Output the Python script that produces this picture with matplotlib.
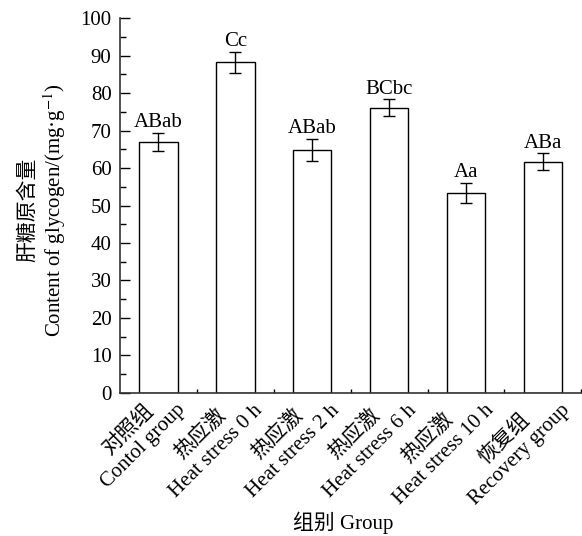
import numpy as np
import matplotlib
matplotlib.use("Agg")
import matplotlib.pyplot as plt
import matplotlib.transforms as mtransforms

plt.rcParams['font.family'] = ['Liberation Serif', 'Noto Sans CJK SC']
plt.rcParams['mathtext.fontset'] = 'stix'

groups_cn = ["对照组", "热应激", "热应激", "热应激", "热应激", "恢复组"]
groups_en = ["Contol group", "Heat stress 0 h", "Heat stress 2 h",
             "Heat stress 6 h", "Heat stress 10 h", "Recovery group"]
glycogen = [67.0, 88.2, 64.9, 76.1, 53.4, 61.7]
glycogen_sd = [2.4, 2.9, 2.9, 2.3, 2.7, 2.3]
letters = ["ABab", "Cc", "ABab", "BCbc", "Aa", "ABa"]

fig = plt.figure(figsize=(5.82, 5.36), dpi=100)
ax = fig.add_axes([0.206, 0.267, 0.793, 0.699])

x = np.arange(len(glycogen))
ax.bar(x, glycogen, width=0.5, color="white", edgecolor="black", linewidth=1.0)
ax.errorbar(x, glycogen, yerr=glycogen_sd, fmt="none", ecolor="black",
            elinewidth=1.0, capsize=4, capthick=1.0)

for xi, v, e, lab in zip(x, glycogen, glycogen_sd, letters):
    ax.annotate(lab, (xi, v + e), xytext=(0, 4), textcoords="offset points",
                ha="center", va="baseline", fontsize=15)

ax.set_xlim(-0.5, 5.5)
ax.set_ylim(0, 100)
ax.set_yticks(np.arange(0, 101, 10))
ax.set_yticks(np.arange(5, 100, 10), minor=True)
ax.set_xticks(x)
ax.set_xticklabels([])
ax.set_xticks(np.arange(0.5, 5.6, 1.0), minor=True)

# two-line group names, rotated, anchored just under each bar
shift = mtransforms.ScaledTranslation(2 / 100, 8.4 / 100, fig.dpi_scale_trans)
for xi, cn, en in zip(x, groups_cn, groups_en):
    ax.text(xi, 0, cn + "\n" + en, transform=ax.get_xaxis_transform() + shift,
            rotation=45, rotation_mode="anchor", ha="right", va="top",
            multialignment="center", fontsize=15, linespacing=1.2)

ax.tick_params(axis="y", which="major", direction="in", length=7, width=1.0,
               labelsize=15, pad=6)
ax.tick_params(axis="y", which="minor", direction="in", length=4, width=1.0)
ax.tick_params(axis="x", which="major", length=0)
ax.tick_params(axis="x", which="minor", direction="in", length=3, width=1.0)

for side in ["top", "right"]:
    ax.spines[side].set_visible(False)
for side in ["left", "bottom"]:
    ax.spines[side].set_color("#333333")
    ax.spines[side].set_linewidth(1.2)

ax.set_ylabel("肝糖原含量\nContent of glycogen/(mg·g$^{-1}$)", fontsize=15,
              linespacing=1.15)
ax.yaxis.label.set_va("center")
ax.yaxis.set_label_coords(-0.165, 0.488)
ax.set_xlabel("组别 Group", fontsize=15)
ax.xaxis.label.set_va("center")
ax.xaxis.set_label_coords(0.483, -0.347)

fig.savefig("out.png", dpi=100)
